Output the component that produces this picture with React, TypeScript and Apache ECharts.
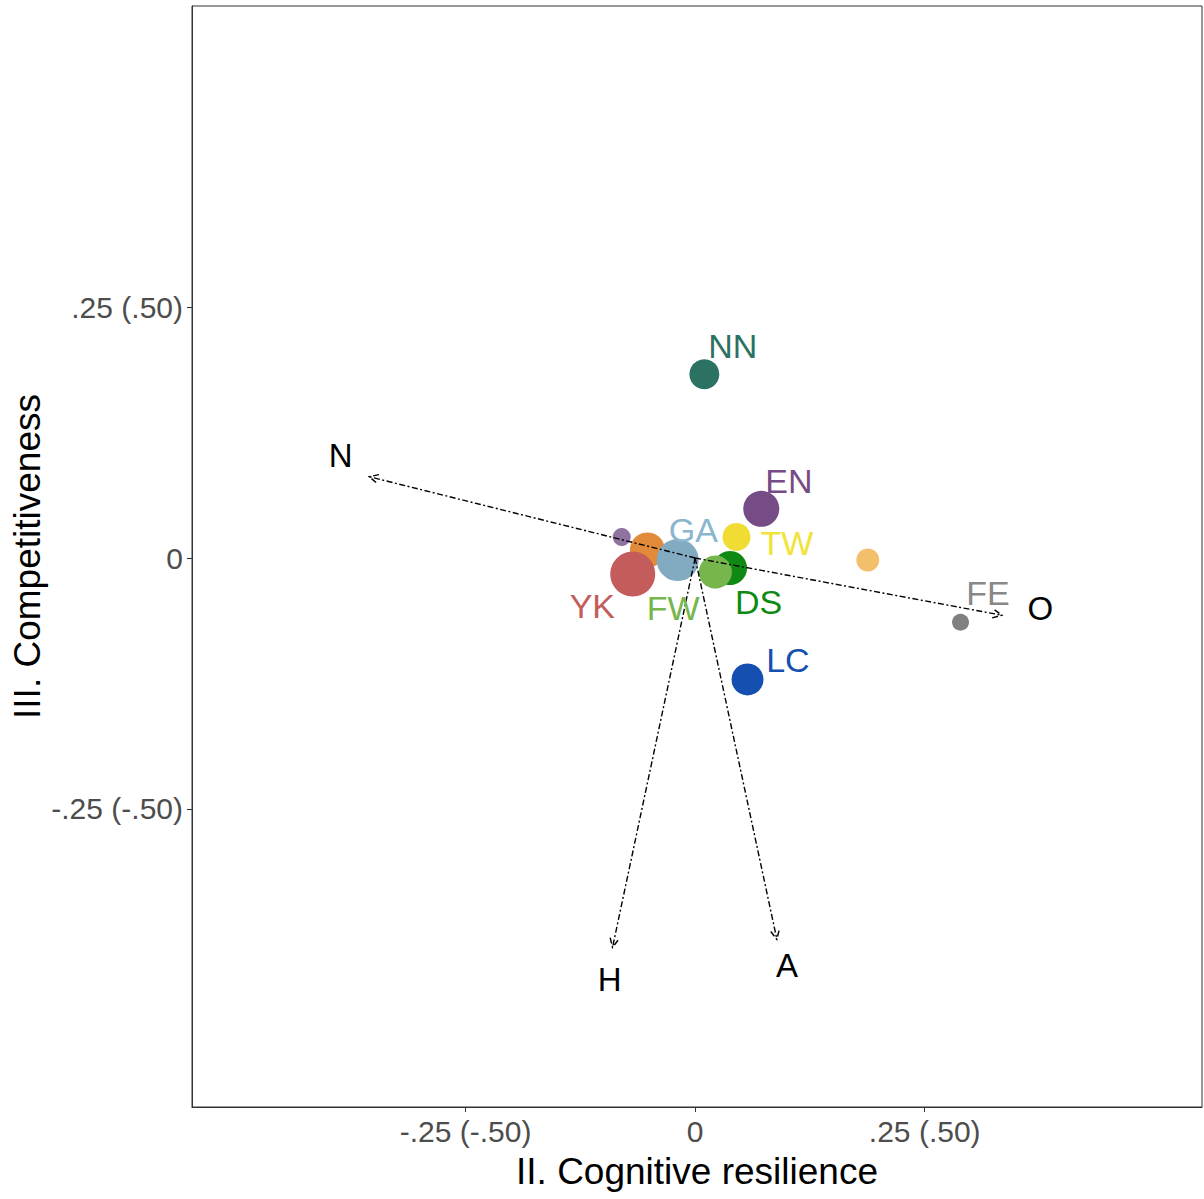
import React, { useEffect, useRef } from "react";
import * as echarts from "echarts";

// Points (draw order)
const pointX = [-0.080, -0.052, -0.068, -0.019, 0.038, 0.022, 0.045, 0.072, 0.010, 0.057, 0.289, 0.188];
const pointY = [0.021, 0.008, -0.016, -0.002, -0.010, -0.014, 0.021, 0.049, 0.183, -0.121, -0.064, -0.002];
const pointSize = [18, 35, 45, 42, 34, 33, 28, 36, 30, 32, 17, 23];
const pointColors = [
  "#8E73A0", "#E18B3A", "#C45C5C", "#82AAC0", "#0E8A14", "#76B64C",
  "#F0DC32", "#764C86", "#2C7262", "#1550B0", "#808080", "#F4BF6A",
];

// Point labels
const labelNames = ["YK", "GA", "DS", "FW", "TW", "EN", "NN", "LC", "FE"];
const labelX = [-0.112, -0.002, 0.069, -0.024, 0.100, 0.102, 0.041, 0.101, 0.319];
const labelY = [-0.048, 0.028, -0.044, -0.050, 0.015, 0.077, 0.211, -0.102, -0.035];
const labelColors = ["#C45C5C", "#8AB6CE", "#0E8A14", "#76B64C", "#F2E33A", "#764C86", "#2C7262", "#1550B0", "#888888"];

// Vectors
const vectorNames = ["N", "O", "H", "A"];
const vectorX = [-0.355, 0.334, -0.090, 0.089];
const vectorY = [0.081, -0.057, -0.388, -0.380];
const vectorLabelX = [-0.386, 0.376, -0.093, 0.100];
const vectorLabelY = [0.102, -0.050, -0.420, -0.406];

// Ticks
const tickValues = [-0.25, 0, 0.25];
const tickLabels = ["-.25 (-.50)", "0", ".25 (.50)"];

const FONT = "Liberation Sans, Arial, sans-serif";

function fmt(v: number) {
  const i = tickValues.findIndex((t) => Math.abs(t - v) < 1e-9);
  return i >= 0 ? tickLabels[i] : "";
}

function makeAxis(name: string, min: number, max: number, nameGap: number) {
  return {
    type: "value",
    min,
    max,
    name,
    nameLocation: "middle",
    nameGap,
    nameMoveOverlap: false,
    nameTextStyle: { fontSize: 37, color: "#000", fontFamily: FONT },
    splitLine: { show: false },
    axisLine: { show: true, onZero: false, lineStyle: { color: "#333", width: 1 } },
    axisTick: { show: true, customValues: tickValues, length: 5, lineStyle: { color: "#333", width: 1 } },
    axisLabel: {
      show: true,
      customValues: tickValues,
      formatter: (v: number) => fmt(v),
      fontSize: 30,
      color: "#4D4D4D",
      fontFamily: FONT,
      margin: 9,
    },
  };
}

export default function App() {
  const ref = useRef<HTMLDivElement>(null);
  useEffect(() => {
    const chart = echarts.init(ref.current!, null, { renderer: "svg" });
    const option: any = {
      animation: false,
      backgroundColor: "#fff",
      grid: {
        left: 192,
        right: 2,
        top: 6,
        bottom: 92,
        containLabel: false,
        outerBoundsMode: "none",
        show: true,
        borderColor: "#333",
        borderWidth: 1,
        backgroundColor: "transparent",
      },
      xAxis: makeAxis("II. Cognitive resilience", -0.548, 0.552, 46),
      yAxis: makeAxis("III. Competitiveness", -0.547, 0.55, 146),
      series: [
        {
          type: "scatter",
          z: 2,
          data: pointX.map((x, i) => ({
            value: [x, pointY[i]],
            symbolSize: pointSize[i],
            itemStyle: { color: pointColors[i], opacity: 1 },
          })),
        },
        {
          type: "custom",
          z: 3,
          data: vectorX.map((x, i) => ({ value: [x, vectorY[i]], name: vectorNames[i] })),
          renderItem: (params: any, api: any) => {
            const s = api.coord([0, 0]);
            const e = api.coord([api.value(0), api.value(1)]);
            const ang = Math.atan2(e[1] - s[1], e[0] - s[0]);
            const L = 10;
            const a = Math.PI / 7;
            const p1 = [e[0] - L * Math.cos(ang - a), e[1] - L * Math.sin(ang - a)];
            const p2 = [e[0] - L * Math.cos(ang + a), e[1] - L * Math.sin(ang + a)];
            const style = { stroke: "#000", lineWidth: 1.4, lineDash: [6, 2.5, 2, 2.5], fill: null };
            return {
              type: "group",
              children: [
                { type: "line", shape: { x1: s[0], y1: s[1], x2: e[0], y2: e[1] }, style },
                { type: "polyline", shape: { points: [p1, e, p2] }, style },
              ],
            };
          },
        },
        {
          type: "custom",
          z: 4,
          data: vectorLabelX.map((x, i) => ({ value: [x, vectorLabelY[i]], name: vectorNames[i] })),
          renderItem: (params: any, api: any) => {
            const c = api.coord([api.value(0), api.value(1)]);
            return {
              type: "text",
              x: c[0],
              y: c[1],
              style: {
                text: vectorNames[params.dataIndex],
                fill: "#000",
                fontSize: 33,
                fontFamily: FONT,
                align: "center",
                verticalAlign: "middle",
              },
            };
          },
        },
        {
          type: "custom",
          z: 5,
          data: labelX.map((x, i) => ({ value: [x, labelY[i]], name: labelNames[i] })),
          renderItem: (params: any, api: any) => {
            const c = api.coord([api.value(0), api.value(1)]);
            return {
              type: "text",
              x: c[0],
              y: c[1],
              style: {
                text: labelNames[params.dataIndex],
                fill: labelColors[params.dataIndex],
                fontSize: 34,
                fontFamily: FONT,
                align: "center",
                verticalAlign: "middle",
              },
            };
          },
        },
      ],
    };
    chart.setOption(option);
    return () => chart.dispose();
  }, []);
  return (
    <div
      ref={ref}
      style={{ position: "fixed", left: 0, top: 0, width: 1204, height: 1199, background: "#fff" }}
    />
  );
}
